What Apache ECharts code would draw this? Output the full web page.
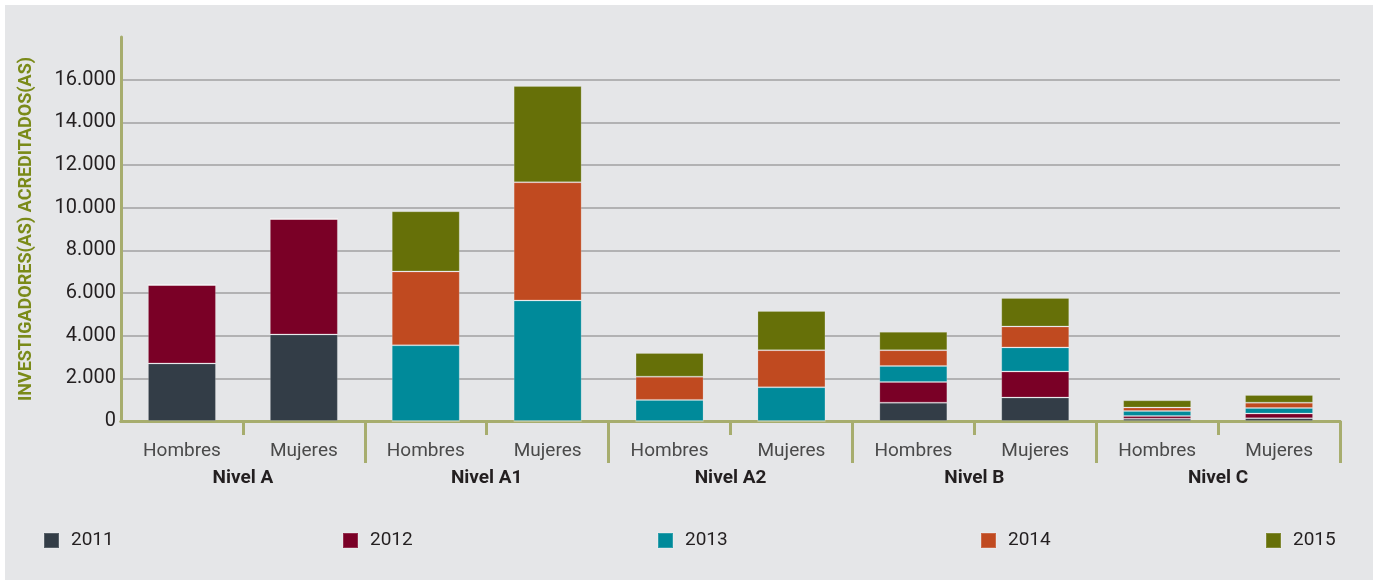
<!DOCTYPE html>
<html>
<head>
<meta charset="utf-8">
<script src="https://cdn.jsdelivr.net/npm/echarts@6/dist/echarts.min.js"></script>
<style>
  html, body { margin: 0; padding: 0; background: #fff; }
  #panel { position: absolute; left: 5px; top: 5px; width: 1368px; height: 575px; background: #e5e6e8; }
  #main { position: absolute; left: 0; top: 0; width: 1378px; height: 585px; }
</style>
</head>
<body>
<div id="panel"></div>
<div id="main"></div>
<script>
// categorías
const generos = ['Hombres', 'Mujeres', 'Hombres', 'Mujeres', 'Hombres', 'Mujeres', 'Hombres', 'Mujeres', 'Hombres', 'Mujeres'];
const niveles = ['Nivel A', 'Nivel A1', 'Nivel A2', 'Nivel B', 'Nivel C'];
const anios = ['2011', '2012', '2013', '2014', '2015'];

// valores por año (A-H, A-M, A1-H, A1-M, A2-H, A2-M, B-H, B-M, C-H, C-M)
const v2011 = [2700, 4060, 0, 0, 0, 0, 860, 1100, 110, 130];
const v2012 = [3680, 5410, 0, 0, 0, 0, 970, 1220, 125, 220];
const v2013 = [0, 0, 3550, 5650, 990, 1580, 750, 1130, 235, 260];
const v2014 = [0, 0, 3460, 5540, 1090, 1740, 740, 980, 160, 250];
const v2015 = [0, 0, 2820, 4510, 1110, 1840, 860, 1340, 340, 360];

const valores = [v2011, v2012, v2013, v2014, v2015];
const colores = ['#333d47', '#7a0026', '#008a9a', '#c04a20', '#667008'];
const legendLeft = [43, 342, 657, 980, 1265];

const olive = '#a7ad6e';
const fmt = v => String(v).replace(/\B(?=(\d{3})+(?!\d))/g, '.');

let chart = echarts.init(document.getElementById('main'));

let option = {
  backgroundColor: 'transparent',
  textStyle: { fontFamily: 'Roboto' },
  grid: { left: 121, right: 38, top: 37, bottom: 164, containLabel: false },
  legend: anios.map((a, i) => ({
    data: [a],
    left: legendLeft[i],
    top: 531,
    padding: 0,
    itemWidth: 15,
    itemHeight: 15,
    icon: 'rect',
    itemGap: 0,
    textStyle: { fontSize: 19, color: '#231f20', padding: [0, 0, 0, 7] }
  })),
  xAxis: [
    {
      type: 'category',
      data: generos,
      axisLine: { show: true, lineStyle: { color: olive, width: 3 } },
      axisTick: { show: true, length: 14, interval: i => i !== 0, lineStyle: { color: olive, width: 3 } },
      axisLabel: { fontSize: 19, color: '#4a4a4a', margin: 21 }
    },
    {
      type: 'category',
      data: niveles,
      position: 'bottom',
      offset: 0,
      axisLine: { show: true, lineStyle: { color: olive, width: 3 } },
      axisTick: { show: true, length: 42, interval: i => i !== 0, lineStyle: { color: olive, width: 3 } },
      axisLabel: { fontSize: 19, fontWeight: 'bold', color: '#231f20', margin: 48 }
    }
  ],
  yAxis: {
    type: 'value',
    min: 0,
    max: 18000,
    interval: 2000,
    name: 'INVESTIGADORES(AS) ACREDITADOS(AS)',
    nameLocation: 'middle',
    nameGap: 86,
    nameTextStyle: { fontSize: 18, fontWeight: 'bold', color: '#7a8a18' },
    axisLine: { show: true, lineStyle: { color: olive, width: 3 } },
    axisTick: { show: false },
    axisLabel: { fontSize: 20, color: '#231f20', margin: 5, showMaxLabel: false, formatter: fmt },
    splitLine: { showMinLine: false, showMaxLine: false, lineStyle: { color: '#a0a0a2', width: 1.5 } }
  },
  series: anios.map((a, i) => ({
    name: a,
    type: 'bar',
    stack: 'total',
    barWidth: 68,
    data: valores[i],
    itemStyle: { color: colores[i], borderColor: 'rgba(255,255,255,0.18)', borderWidth: 1 }
  }))
};

chart.setOption(option);
</script>
</body>
</html>
